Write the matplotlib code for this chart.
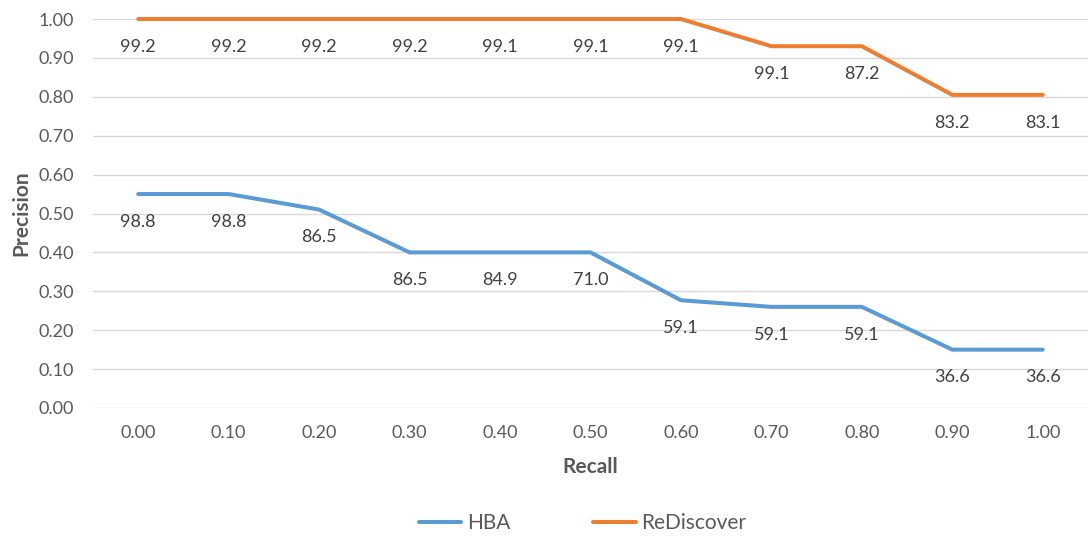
import matplotlib
matplotlib.use("Agg")
import matplotlib.pyplot as plt
from matplotlib.lines import Line2D

plt.rcParams['font.family'] = ['Lato', 'DejaVu Sans']

recall = ["0.00", "0.10", "0.20", "0.30", "0.40", "0.50",
          "0.60", "0.70", "0.80", "0.90", "1.00"]
hba_precision = [0.55, 0.55, 0.51, 0.40, 0.40, 0.40, 0.277, 0.26, 0.26, 0.15, 0.15]
rediscover_precision = [1.00, 1.00, 1.00, 1.00, 1.00, 1.00, 1.00, 0.93, 0.93, 0.805, 0.805]
hba_labels = ["98.8", "98.8", "86.5", "86.5", "84.9", "71.0",
              "59.1", "59.1", "59.1", "36.6", "36.6"]
rediscover_labels = ["99.2", "99.2", "99.2", "99.2", "99.1", "99.1",
                     "99.1", "99.1", "87.2", "83.2", "83.1"]
yticks = [0.0, 0.1, 0.2, 0.3, 0.4, 0.5, 0.6, 0.7, 0.8, 0.9, 1.0]

blue = "#5B9BD5"
orange = "#ED7D31"
tick_grey = "#595959"
label_grey = "#404040"

fig = plt.figure(figsize=(10.88, 5.37), dpi=100)
ax = fig.add_axes([93 / 1088, (537 - 408) / 537, (1088 - 93) / 1088, (408 - 19) / 537])

x = list(range(len(recall)))
ax.plot(x, hba_precision, color=blue, lw=2.9, solid_capstyle='round',
        solid_joinstyle='round', clip_on=False, zorder=3)
ax.plot(x, rediscover_precision, color=orange, lw=2.9, solid_capstyle='round',
        solid_joinstyle='round', clip_on=False, zorder=3)

for xi, yi, t in zip(x, hba_precision, hba_labels):
    ax.annotate(t, (xi, yi), xytext=(0, -20), textcoords='offset points',
                ha='center', va='center', fontsize=13, color=label_grey)
for xi, yi, t in zip(x, rediscover_precision, rediscover_labels):
    ax.annotate(t, (xi, yi), xytext=(0, -20), textcoords='offset points',
                ha='center', va='center', fontsize=13, color=label_grey)

ax.set_xlim(-0.5, len(recall) - 0.5)
ax.set_ylim(0, 1.0)
ax.set_xticks(x)
ax.set_xticklabels(recall)
ax.set_yticks(yticks)
ax.set_yticklabels([f"{v:.2f}" for v in yticks])
ax.tick_params(axis='both', length=0, labelsize=13, colors=tick_grey)
ax.tick_params(axis='y', pad=14)
ax.tick_params(axis='x', pad=12)

ax.grid(axis='y', color='#D9D9D9', lw=1.0, zorder=0)
ax.set_axisbelow(True)
for s in ax.spines.values():
    s.set_visible(False)

ax.set_xlabel("Recall", fontsize=15, fontweight='bold', color=tick_grey, labelpad=12)
ax.set_ylabel("Precision", fontsize=15, fontweight='bold', color=tick_grey, labelpad=5)

handles = [Line2D([], [], color=blue, lw=2.9, solid_capstyle='round'),
           Line2D([], [], color=orange, lw=2.9, solid_capstyle='round')]
leg = fig.legend(handles, ["HBA", "ReDiscover"], loc='center',
                 bbox_to_anchor=(582.5 / 1088, 1 - 523 / 537), ncol=2, frameon=False,
                 fontsize=15, handlelength=2.05, handletextpad=0.25, columnspacing=4.0)
for t in leg.get_texts():
    t.set_color(tick_grey)

fig.savefig("out.png", dpi=100)
